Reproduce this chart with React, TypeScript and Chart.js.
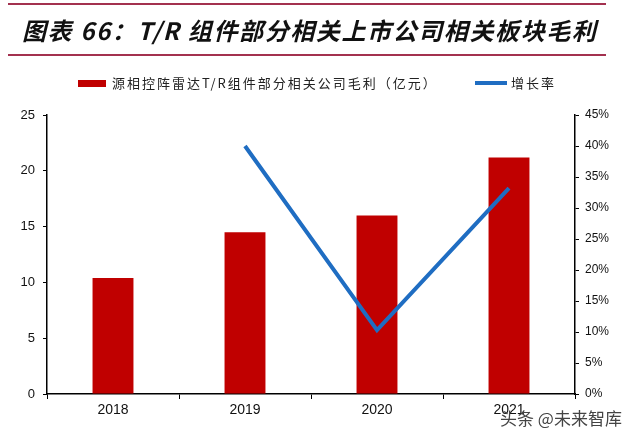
import React, { useEffect, useRef } from "react";
import { Chart, registerables } from "chart.js";

Chart.register(...registerables);

const categories = ["2018", "2019", "2020", "2021"];
const grossProfit = [10.4, 14.5, 16.0, 21.2];
const growthRate = [null, 40.0, 10.3, 33.2];
const leftMax = 25;
const leftStep = 5;
const rightMax = 45;
const rightStep = 5;
const titleText = "图表 66：T/R 组件部分相关上市公司相关板块毛利";
const barLabel = "源相控阵雷达T/R组件部分相关公司毛利（亿元）";
const lineLabel = "增长率";
const watermark = "头条 @未来智库";

const BAR_COLOR = "#c00000";
const LINE_COLOR = "#1f6dc2";
const RULE_COLOR = "#a3314f";
const CJK = "'Noto Sans CJK SC', 'Noto Sans', sans-serif";
const LATIN = "'Liberation Sans', Arial, sans-serif";

export default function App() {
  const ref = useRef<HTMLCanvasElement | null>(null);

  useEffect(() => {
    document.body.style.margin = "0";
    const ctx = ref.current!;
    const chart = new Chart(ctx, {
      type: "bar",
      data: {
        labels: categories,
        datasets: [
          {
            type: "line",
            label: lineLabel,
            data: growthRate as any,
            yAxisID: "y1",
            borderColor: LINE_COLOR,
            backgroundColor: LINE_COLOR,
            borderWidth: 4,
            pointRadius: 0,
            tension: 0,
            order: 0,
            spanGaps: false,
          },
          {
            type: "bar",
            label: barLabel,
            data: grossProfit,
            yAxisID: "y",
            backgroundColor: BAR_COLOR,
            borderWidth: 0,
            barPercentage: 0.31,
            categoryPercentage: 1,
            order: 1,
          },
        ],
      },
      options: {
        responsive: false,
        animation: false,
        layout: { padding: { top: 115, left: 0, right: 0, bottom: 0 } },
        plugins: {
          legend: { display: false },
          tooltip: { enabled: false },
          title: { display: false },
        },
        scales: {
          x: {
            grid: {
              display: true,
              drawOnChartArea: false,
              offset: true,
              tickLength: 5,
              color: "#000",
              lineWidth: 1,
            },
            border: { display: true, color: "#000", width: 1.5 },
            ticks: {
              color: "#111",
              font: { family: "'Liberation Sans Narrow', 'Liberation Sans', Arial", size: 14 },
              padding: 3,
            },
            afterFit: (s: any) => {
              s.height = 43;
            },
          },
          y: {
            position: "left",
            min: 0,
            max: leftMax,
            grid: {
              display: true,
              drawOnChartArea: false,
              tickLength: 4,
              color: "#000",
            },
            border: { display: true, color: "#000", width: 1.5 },
            ticks: {
              stepSize: leftStep,
              color: "#111",
              font: { family: LATIN, size: 13 },
              padding: 8,
            },
            afterFit: (s: any) => {
              s.width = 47;
            },
          },
          y1: {
            position: "right",
            min: 0,
            max: rightMax,
            grid: {
              display: true,
              drawOnChartArea: false,
              tickLength: 4,
              color: "#000",
            },
            border: { display: true, color: "#000", width: 1.5 },
            ticks: {
              stepSize: rightStep,
              color: "#111",
              font: { family: LATIN, size: 12 },
              padding: 6,
              callback: (v: any) => `${v}%`,
            },
            afterFit: (s: any) => {
              s.width = 65;
            },
          },
        },
      },
    });
    return () => chart.destroy();
  }, []);

  return (
    <div
      style={{
        position: "fixed",
        left: 0,
        top: 0,
        width: 640,
        height: 437,
        background: "#fff",
        overflow: "hidden",
      }}
    >
      <canvas
        ref={ref}
        width={640}
        height={437}
        style={{ position: "absolute", left: 0, top: 0, width: 640, height: 437 }}
      />
      <div
        style={{
          position: "absolute",
          left: 8,
          top: 3,
          width: 598,
          height: 2,
          background: RULE_COLOR,
        }}
      />
      <div
        style={{
          position: "absolute",
          left: 8,
          top: 54,
          width: 598,
          height: 2,
          background: RULE_COLOR,
        }}
      />
      <div
        style={{
          position: "absolute",
          left: 22,
          top: 13,
          fontFamily: CJK,
          fontSize: 24,
          lineHeight: "34px",
          fontWeight: 700,
          fontStyle: "italic",
          letterSpacing: 1.6,
          color: "#111",
          whiteSpace: "nowrap",
        }}
      >
        {titleText}
      </div>
      <div
        style={{
          position: "absolute",
          left: 78,
          top: 80,
          width: 28,
          height: 7,
          background: BAR_COLOR,
        }}
      />
      <div
        style={{
          position: "absolute",
          left: 112,
          top: 74,
          fontFamily: CJK,
          fontSize: 13,
          lineHeight: "18px",
          letterSpacing: 2,
          color: "#222",
          whiteSpace: "nowrap",
        }}
      >
        {barLabel}
      </div>
      <div
        style={{
          position: "absolute",
          left: 475,
          top: 81,
          width: 32,
          height: 4,
          background: LINE_COLOR,
        }}
      />
      <div
        style={{
          position: "absolute",
          left: 511,
          top: 74,
          fontFamily: CJK,
          fontSize: 13,
          lineHeight: "18px",
          letterSpacing: 2,
          color: "#222",
          whiteSpace: "nowrap",
        }}
      >
        {lineLabel}
      </div>
      <div
        style={{
          position: "absolute",
          left: 500,
          top: 407,
          fontFamily: CJK,
          fontSize: 17,
          lineHeight: "22px",
          color: "#444",
          whiteSpace: "nowrap",
        }}
      >
        {watermark}
      </div>
    </div>
  );
}
